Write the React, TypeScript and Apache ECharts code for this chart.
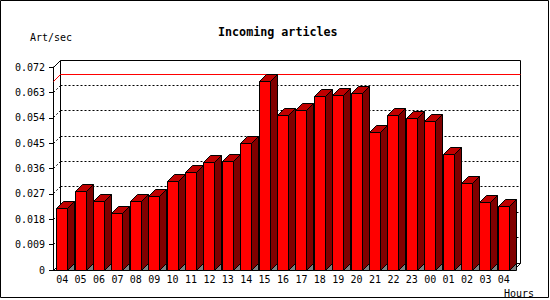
import React, { useEffect, useRef } from "react";
import * as echarts from "echarts";

const hours = ["04", "05", "06", "07", "08", "09", "10", "11", "12", "13", "14", "15", "16", "17", "18", "19", "20", "21", "22", "23", "00", "01", "02", "03", "04"];
const articlesPerSec = [0.0219, 0.0279, 0.0244, 0.0202, 0.0244, 0.0261, 0.0315, 0.0346, 0.0382, 0.0386, 0.0447, 0.067, 0.0549, 0.0566, 0.0616, 0.062, 0.0627, 0.0488, 0.0549, 0.0538, 0.0527, 0.041, 0.0308, 0.024, 0.0226];
const yMin = 0;
const yMax = 0.072;
const yInterval = 0.009;
const gridValues = [0.009, 0.018, 0.027, 0.036, 0.045, 0.054, 0.063];

const DEPTH = 7;
const BAR_W = 11;
const FONT = '"DejaVu Sans Mono", monospace';

const px = (v: number) => Math.floor(v) + 0.5;

export default function App() {
  const ref = useRef<HTMLDivElement>(null);
  useEffect(() => {
    const chart = echarts.init(ref.current!, null, { renderer: "svg" });
    const maxVal = Math.max(...articlesPerSec);
    const black = { stroke: "#000", lineWidth: 1, fill: null };
    const dotted = { stroke: "#000", lineWidth: 1, fill: null, lineDash: [2, 2] };

    chart.setOption({
      animation: false,
      backgroundColor: "#fff",
      title: {
        text: "Incoming articles",
        left: 213,
        top: 20,
        textStyle: { fontFamily: FONT, fontSize: 11.7, fontWeight: "bold", color: "#000", lineHeight: 14 },
      },
      grid: { left: 53, top: 67, width: 460, height: 203, containLabel: false },
      xAxis: {
        type: "category",
        data: hours,
        boundaryGap: true,
        axisLine: { lineStyle: { color: "#000" } },
        axisTick: { length: 4, lineStyle: { color: "#000" } },
        axisLabel: { color: "#000", fontFamily: FONT, fontSize: 10, margin: 4, interval: 0 },
        splitLine: { show: false },
      },
      yAxis: {
        type: "value",
        min: yMin,
        max: yMax,
        interval: yInterval,
        axisLine: { show: true, lineStyle: { color: "#000" } },
        axisTick: { show: true, length: 4, lineStyle: { color: "#000" } },
        axisLabel: {
          color: "#000",
          fontFamily: FONT,
          fontSize: 10,
          margin: 8,
          formatter: (v: number) => (v === 0 ? "0" : v.toFixed(3)),
        },
        splitLine: { show: false },
      },
      graphic: [
        {
          type: "rect",
          shape: { x: 0.5, y: 0.5, width: 548, height: 297 },
          style: { fill: null, stroke: "#000", lineWidth: 1 },
          z: 100,
        },
        {
          type: "text",
          x: 30,
          y: 37,
          style: { text: "Art/sec", font: `10px ${FONT}`, fill: "#000", verticalAlign: "middle" },
        },
        {
          type: "text",
          x: 504,
          y: 293,
          style: { text: "Hours", font: `10px ${FONT}`, fill: "#000", verticalAlign: "middle" },
        },
      ],
      series: [
        {
          type: "custom",
          name: "frame",
          z: 1,
          silent: true,
          data: [[0, yMax]],
          renderItem: (params: any, api: any) => {
            const cs = params.coordSys;
            const L = px(cs.x), R = px(cs.x + cs.width), T = px(cs.y), B = px(cs.y + cs.height);
            const d = DEPTH;
            return {
              type: "group",
              children: [
                { type: "polyline", shape: { points: [[L, T], [L + d, T - d], [R + d, T - d], [R + d, B - d], [R, B]] }, style: black },
                { type: "line", shape: { x1: L + d, y1: T - d, x2: L + d, y2: B - d }, style: black },
                { type: "line", shape: { x1: L + d, y1: B - d, x2: R + d, y2: B - d }, style: black },
                { type: "line", shape: { x1: L, y1: B, x2: L + d, y2: B - d }, style: black },
              ],
            };
          },
        },
        {
          type: "custom",
          name: "grid",
          z: 2,
          silent: true,
          data: gridValues.map((v) => [0, v]),
          renderItem: (params: any, api: any) => {
            const cs = params.coordSys;
            const L = px(cs.x), R = px(cs.x + cs.width);
            const y = px(api.coord([0, api.value(1)])[1]);
            const d = DEPTH;
            return {
              type: "group",
              children: [
                { type: "line", shape: { x1: L + d, y1: y - d, x2: R + d, y2: y - d }, style: dotted },
                { type: "line", shape: { x1: L, y1: y, x2: L + d, y2: y - d }, style: dotted },
              ],
            };
          },
        },
        {
          type: "custom",
          name: "max",
          z: 2,
          silent: true,
          data: [[0, maxVal]],
          renderItem: (params: any, api: any) => {
            const cs = params.coordSys;
            const L = px(cs.x), R = px(cs.x + cs.width);
            const y = px(api.coord([0, api.value(1)])[1]);
            const d = DEPTH;
            return {
              type: "polyline",
              shape: { points: [[L, y], [L + d, y - d], [R + d, y - d]] },
              style: { stroke: "#ff0000", lineWidth: 1, fill: null },
            };
          },
        },
        {
          type: "custom",
          name: "Art/sec",
          z: 3,
          data: articlesPerSec.map((v, i) => [i, v]),
          encode: { x: 0, y: 1 },
          renderItem: (params: any, api: any) => {
            const i = api.value(0);
            const v = api.value(1);
            const [xc, yt] = api.coord([i, v]);
            const yb = api.coord([i, 0])[1];
            const x0 = px(xc - BAR_W / 2);
            const x1 = x0 + BAR_W;
            const t = px(yt);
            const b = px(yb);
            const d = DEPTH;
            return {
              type: "group",
              children: [
                { type: "polygon", shape: { points: [[x1, t], [x1 + d, t - d], [x1 + d, b - d], [x1, b]] }, style: { fill: "#800000", stroke: "#000", lineWidth: 1 } },
                { type: "polygon", shape: { points: [[x1, b], [x1 + d, b - d], [x1 + d, b]] }, style: { fill: "#808080", stroke: "#000", lineWidth: 1 } },
                { type: "polygon", shape: { points: [[x0, t], [x0 + d, t - d], [x1 + d, t - d], [x1, t]] }, style: { fill: "#c00000", stroke: "#000", lineWidth: 1 } },
                { type: "rect", shape: { x: x0, y: t, width: BAR_W, height: b - t }, style: { fill: "#ff0000", stroke: "#000", lineWidth: 1 } },
              ],
            };
          },
        },
      ],
    });
    return () => chart.dispose();
  }, []);
  return <div ref={ref} style={{ position: "fixed", left: 0, top: 0, width: 550, height: 300 }} />;
}
